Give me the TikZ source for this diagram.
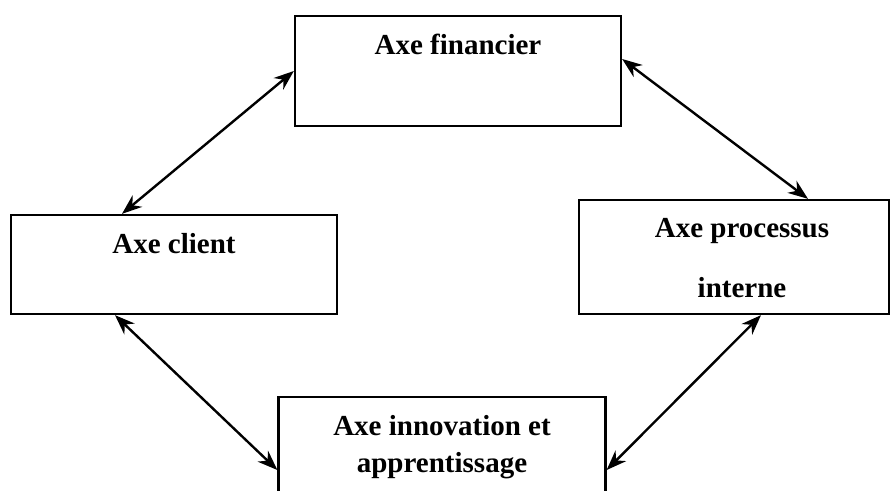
\documentclass[tikz,border=0pt]{standalone}
\usepackage{fontspec}
\setmainfont{Liberation Serif}
\usetikzlibrary{arrows.meta,positioning}

\tikzset{
    axebox/.style={rectangle, draw, line width=2.3pt, inner sep=0pt},
    axetext/.style={inner sep=0pt, align=center, font=\fontsize{29}{37}\selectfont\bfseries},
    axelink/.style={{Stealth[length=20pt,width=15pt]}-{Stealth[length=20pt,width=15pt]}, line width=2.4pt}
}

\begin{document}
\begin{tikzpicture}[x=1pt, y=-1pt]
        \def\textgap{19pt}
        \clip (0, 0) rectangle (896, 490);

        \node[axebox, minimum width=326pt, minimum height=110pt] (fin) at (458, 71) {};
        \node[axebox, minimum width=326pt, minimum height=99pt] (cli) at (174, 264.5) {};
        \node[axebox, minimum width=310pt, minimum height=114pt] (pro) at (734, 257) {};
        \node[axebox, minimum width=327pt, minimum height=113pt] (inn) at (442, 453.5) {};

        \node[axetext, below = \textgap of fin.north] (fintxt) {Axe financier};
        \node[axetext, below = \textgap of cli.north] (clitxt) {Axe client};
        \node[axetext, below = \textgap of pro.north, xshift=8pt] (protxt) {Axe processus\\[23pt]interne};
        \node[axetext, below = \textgap of inn.north] (inntxt) {Axe innovation et\\apprentissage};

        \draw[axelink] (fin.west) -- ([xshift=-52pt]cli.north);
        \draw[axelink] ([yshift=12pt]fin.east) -- ([xshift=74pt]pro.north);
        \draw[axelink] ([xshift=-59pt]cli.south) -- ([yshift=-16.5pt]inn.west);
        \draw[axelink] ([xshift=27pt]pro.south) -- ([yshift=-16.5pt]inn.east);
\end{tikzpicture}
\end{document}
